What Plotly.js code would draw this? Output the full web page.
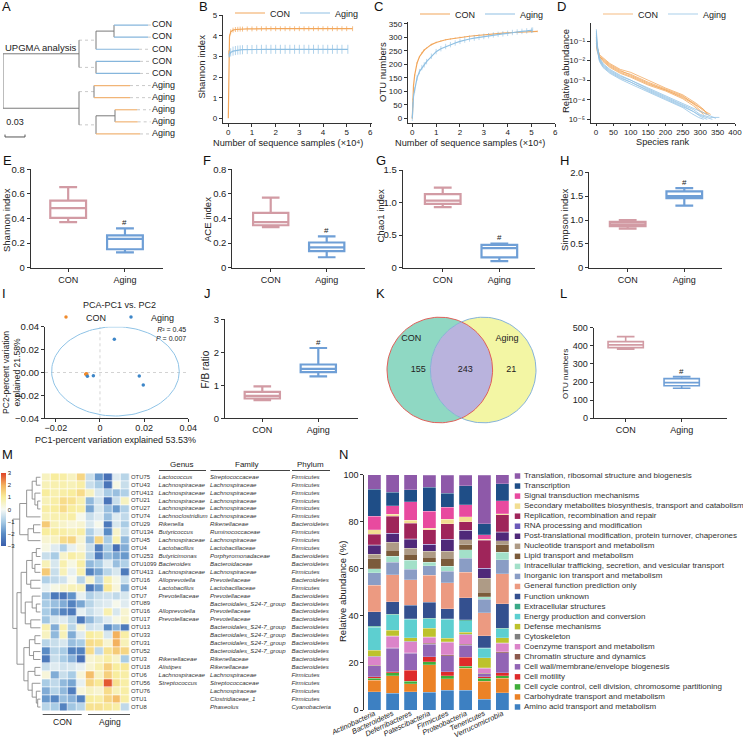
<!DOCTYPE html>
<html><head><meta charset="utf-8">
<script src="https://cdn.plot.ly/plotly-3.0.1.min.js"></script>
<style>body{margin:0;background:#fff}#chart{width:743px;height:741px}</style>
</head><body><div id="chart"></div>
<script>
// ================= DATA =================
// A: UPGMA tree. internal node: [depth, childA, childB]; leaf: ['L', leafIndex, tipDepth]
const treeLeaves=['CON','CON','CON','CON','CON','Aging','Aging','Aging','Aging','Aging'];
const upgmaTree=[0,
  [0.114,
    [0.1395,[0.1665,['L',0,0.2175],['L',1,0.2175]],['L',2,0.204]],
    [0.1395,['L',3,0.2055],['L',4,0.2055]]],
  [0.114,
    [0.1365,['L',5,0.1905],['L',6,0.1905]],
    [0.1395,[0.168,['L',7,0.201],['L',8,0.202]],['L',9,0.2055]]]];
const scaleBarLen=0.03;

// B: Shannon rarefaction
const bConX=[0,0.02,0.05,0.1,0.2,0.3,0.4,0.5,0.6,0.8,1.0,1.2,1.4,1.6,1.8,2.0,2.2,2.4,2.6,2.8,3.0,3.2,3.4,3.6,3.8,4.0,4.2,4.4,4.6,4.8,5.0,5.25];
const bConY=[0,3.2,3.95,4.2,4.28,4.31,4.32,4.33,4.33,4.34,4.34,4.35,4.35,4.35,4.35,4.35,4.35,4.35,4.35,4.35,4.35,4.35,4.35,4.35,4.35,4.35,4.35,4.35,4.35,4.35,4.35,4.35];
const bConErr=[0,0.1,0.12,0.12,0.12,0.12,0.12,0.12,0.12,0.12,0.12,0.12,0.12,0.12,0.12,0.12,0.12,0.12,0.12,0.12,0.12,0.12,0.12,0.12,0.12,0.12,0.12,0.12,0.12,0.12,0.12,0.12];
const bAgeX=[0.03,0.05,0.1,0.2,0.3,0.4,0.5,0.6,0.8,1.0,1.2,1.4,1.6,1.8,2.0,2.2,2.4,2.6,2.8,3.0,3.2,3.4,3.6,3.8,4.0,4.2,4.4,4.6,4.8,5.05];
const bAgeY=[3.05,3.12,3.2,3.26,3.29,3.31,3.32,3.33,3.34,3.34,3.35,3.35,3.35,3.35,3.35,3.35,3.35,3.35,3.35,3.35,3.35,3.35,3.35,3.35,3.35,3.35,3.35,3.35,3.35,3.35];
const bAgeErr=[0.1,0.15,0.2,0.22,0.22,0.22,0.22,0.22,0.22,0.22,0.22,0.22,0.22,0.22,0.22,0.22,0.22,0.22,0.22,0.22,0.22,0.22,0.22,0.22,0.22,0.22,0.22,0.22,0.22,0.22];

// C: OTU rarefaction
const cConX=[0,0.02,0.05,0.1,0.2,0.3,0.4,0.5,0.6,0.8,1.0,1.2,1.4,1.6,1.8,2.0,2.2,2.4,2.6,2.8,3.0,3.2,3.4,3.6,3.8,4.0,4.2,4.4,4.6,4.8,5.0,5.25];
const cConY=[0,70,120,160,205,228,243,253,260,273,281,287,291,294,297,300,302,304,306,308,310,311,313,314,316,317,318,319,320,321,322,322];
const cAgeX=[0,0.02,0.05,0.1,0.2,0.3,0.4,0.5,0.6,0.8,1.0,1.2,1.4,1.6,1.8,2.0,2.2,2.4,2.6,2.8,3.0,3.2,3.4,3.6,3.8,4.0,4.2,4.4,4.6,4.8,5.0,5.05];
const cAgeY=[0,50,80,105,150,173,188,198,210,230,247,258,266,273,279,285,290,294,297,300,303,306,309,311,313,315,318,320,322,324,326,327];
const cConErr=3, cAgeErr=10;

// D: rank abundance (log10 relative abundance)
const dConRank=[[1,3,10,20,40,70,100,150,200,250,290,310,320],[1,3,10,20,40,70,100,150,200,250,280,300,318],[1,3,10,20,40,70,100,150,200,250,285,305,330],[1,3,10,20,40,70,100,150,200,250,280,298,310],[1,3,10,20,40,70,100,150,200,250,285,310,325]];
const dConLog=[[-0.9,-1.3,-1.7,-1.85,-2.15,-2.45,-2.6,-3.0,-3.4,-3.75,-4.2,-4.5,-4.75],[-1.0,-1.4,-1.8,-1.95,-2.25,-2.55,-2.7,-3.1,-3.45,-3.8,-4.2,-4.55,-4.75],[-0.8,-1.3,-1.75,-2.0,-2.3,-2.6,-2.8,-3.2,-3.5,-3.85,-4.2,-4.5,-4.75],[-1.1,-1.5,-1.85,-2.05,-2.35,-2.65,-2.85,-3.25,-3.55,-3.95,-4.3,-4.6,-4.75],[-0.95,-1.35,-1.8,-1.9,-2.2,-2.5,-2.75,-3.15,-3.5,-3.9,-4.25,-4.5,-4.8]];
const dAgeRank=[[1,3,10,20,40,70,100,150,200,250,280,300,330,355],[1,3,10,20,40,70,100,150,200,250,280,300,335],[1,3,10,20,40,70,100,150,200,250,280,300,320],[1,3,10,20,40,70,100,150,200,250,275,295,310],[1,3,10,20,40,70,100,150,200,250,285,310,345]];
const dAgeLog=[[-0.5,-1.2,-1.9,-2.2,-2.5,-2.8,-3.0,-3.45,-3.85,-4.25,-4.5,-4.75,-4.9,-4.9],[-0.7,-1.3,-2.0,-2.3,-2.6,-2.9,-3.1,-3.55,-3.95,-4.35,-4.6,-4.8,-5.0],[-0.6,-1.25,-1.95,-2.25,-2.55,-2.85,-3.1,-3.5,-3.9,-4.3,-4.6,-4.85,-5.0],[-0.8,-1.4,-2.05,-2.35,-2.65,-2.95,-3.2,-3.6,-4.0,-4.4,-4.7,-4.9,-5.0],[-0.4,-1.1,-1.85,-2.15,-2.45,-2.75,-3.0,-3.4,-3.8,-4.2,-4.5,-4.7,-4.95]];
const dTickText=['10⁻⁵','10⁻⁴','10⁻³','10⁻²','10⁻¹'];

// Box plots: [lowerWhisker, q1, median, q3, upperWhisker]
const groups=['CON','Aging'];
const shannonCON=[0.37,0.405,0.485,0.545,0.655], shannonAging=[0.125,0.15,0.235,0.262,0.32];
const aceCON=[0.33,0.345,0.37,0.445,0.57], aceAging=[0.085,0.135,0.165,0.205,0.255];
const chao1CON=[0.93,0.98,1.03,1.13,1.23], chao1Aging=[0.1,0.16,0.3,0.35,0.37];
const simpsonCON=[0.82,0.87,0.91,0.96,1.0], simpsonAging=[1.3,1.46,1.5,1.6,1.67];
const fbCON=[0.55,0.6,0.68,0.8,0.97], fbAging=[1.27,1.4,1.5,1.63,2.13];
const otuCON=[381,390,405,423,451], otuAging=[166,180,197,219,230];

// I: PCA
const pcaConX=[-0.0063,-0.0061,-0.0064,-0.0062,-0.0060], pcaConY=[-0.0015,-0.0017,-0.0014,-0.0016,-0.0013];
const pcaAgeX=[-0.0057,-0.003,0.0065,0.0178,0.0196], pcaAgeY=[-0.0032,-0.0029,0.029,-0.003,-0.011];
const pcaEllipse=[0.007,0.001,0.0289,0.039]; // cx, cy, rx, ry

// K: Venn
const vennSets=['CON','Aging'];
const vennCounts=[155,243,21]; // CON only, shared, Aging only

// M: heatmap
const otuLabels=['OTU75','OTU43','OTU413','OTU21','OTU27','OTU74','OTU29','OTU134','OTU45','OTU4','OTU253','OTU1099','OTU413','OTU16','OTU4','OTU7','OTU89','OTU16','OTU17','OTU13','OTU33','OTU31','OTU52','OTU3','OTU18','OTU6','OTU56','OTU76','OTU1','OTU8'];
const genusNames=['Lactococcus','Lachnospiraceae','Lachnospiraceae','Lachnospiraceae','Lachnospiraceae','Lachnoclostridium','Rikenella','Butyricoccus','Lachnospiraceae','Lactobacillus','Butyricimonas','Bacteroides','Lachnospiraceae','Alloprevotella','Lactobacillus','Prevotellaceae','','Alloprevotella','Prevotellaceae','','','','','Rikenellaceae','Alistipes','Lachnospiraceae','Streptococcus','','',''];
const familyNames=['Streptococcaceae','Lachnospiraceae','Lachnospiraceae','Lachnospiraceae','Lachnospiraceae','Lachnospiraceae','Rikenellaceae','Ruminococcaceae','Lachnospiraceae','Lactobacillaceae','Porphyromonadaceae','Bacteroidaceae','Lachnospiraceae','Prevotellaceae','Lactobacillaceae','Prevotellaceae','Bacteroidales_S24-7_group','Prevotellaceae','Prevotellaceae','Bacteroidales_S24-7_group','Bacteroidales_S24-7_group','Bacteroidales_S24-7_group','Bacteroidales_S24-7_group','Rikenellaceae','Rikenellaceae','Lachnospiraceae','Streptococcaceae','Lachnospiraceae','Clostridiaceae_1','Phaseolus'];
const phylumNames=['Firmicutes','Firmicutes','Firmicutes','Firmicutes','Firmicutes','Firmicutes','Bacteroidetes','Firmicutes','Firmicutes','Firmicutes','Bacteroidetes','Bacteroidetes','Firmicutes','Bacteroidetes','Firmicutes','Bacteroidetes','Bacteroidetes','Bacteroidetes','Bacteroidetes','Bacteroidetes','Bacteroidetes','Bacteroidetes','Bacteroidetes','Bacteroidetes','Bacteroidetes','Firmicutes','Firmicutes','Firmicutes','Firmicutes','Cyanobacteria'];
const heatZ=[
[0.6,1,0.9,0.6,1.4,-0.6,-1.8,-2.6,-0.3,-0.8],
[0.7,0.8,0.8,0.7,0.9,-0.6,-1,-2.5,0.2,-0.6],
[1,0.8,0.9,1,1.3,0.6,-0.4,-1,-1.2,-0.9],
[0.7,0.9,1.3,1.2,0.8,-1.3,-0.5,-2.5,-0.6,0.6],
[0.9,1,1.3,1,0.9,-1.6,-0.4,-1.2,-1.8,-0.9],
[0.7,0.8,0.8,0.9,0.1,-0.6,-0.3,-1.2,-0.3,-0.7],
[1.6,0.7,0.5,0.3,0.4,-0.4,0.1,-2.4,-0.4,-1],
[1,1,0.9,0.7,0.9,-0.9,-0.3,-2,0.5,-0.6],
[0.4,0.6,1.3,1.4,0.4,-1.2,1.4,-1,0.8,-1.3],
[0.2,-0.3,-0.9,-0.2,0.3,-0.6,-2.3,-1,-2.6,-1.5],
[-0.6,-1,0.5,0.9,0.7,-0.8,-2.3,-1.3,-1.6,-1.8],
[0.7,-0.4,0.8,0.2,0.9,-1.3,-1,-0.3,-1.2,-0.9],
[1.6,-0.6,0.7,-0.2,0.8,-2.2,-1.6,-0.8,-0.4,-2.4],
[-0.9,-0.7,-0.5,0.1,-0.8,0.5,-0.9,0.8,0.2,-0.6],
[-0.2,0.2,0.5,0.7,0.7,-2.4,-1.7,1.1,0.3,-1.5],
[-1.2,-2.4,-2.5,-1.9,-0.2,-0.9,-0.6,-0.5,-0.7,-0.4],
[-1,-1.2,-1.5,-2.2,-1.6,-0.8,-0.4,-0.3,0.1,-0.3],
[-1,-1.6,-2.2,-2.4,-0.2,-0.6,-0.3,0.8,-0.4,0.4],
[-1.1,-0.4,-0.3,-0.8,-2.4,-1.3,-0.7,-0.3,0.2,0.5],
[0.8,-1.5,0.8,-0.8,0.4,-0.5,-0.4,-2,-1.4,-2.4],
[0.6,-1.3,0.7,-1.5,-0.3,1,0.8,-0.4,2,0.9],
[-0.8,-0.6,-0.4,-1.2,-1,1.3,1.2,0.4,2,0.7],
[-2,-0.8,-1,-2.2,-2.2,1.3,-0.7,1.2,1.6,1.4],
[-2.4,-0.6,-1,-1.4,-2.6,0.4,0.6,0.9,0.5,-1],
[-0.6,-0.3,-0.5,-0.4,-0.2,0.4,0.8,1.5,1,1.1],
[0.3,-1.5,-0.6,-1,0.3,1.8,0.6,1.5,1,0.9],
[-1,-0.7,-1.3,-1.6,-0.2,1.4,1.1,2.8,1.2,0.9],
[-1.5,-0.8,-1.3,-2.3,0.3,0.6,0.4,1.3,0.7,0.9],
[-1.8,-2.1,-1.2,-1.4,-2.2,1,0.9,1.4,1.8,0.9],
[-0.8,-1,-2.2,-1.1,-0.8,1.2,1.2,1.1,0.9,-0.7]];
// row clustering: [height, childA, childB]; leaves are row indices
const rowTree=[1.0,
  [0.75,[0.5,[0.3,[0.15,0,1],[0.2,2,[0.1,3,4]]],5],[0.45,[0.25,6,7],8]],
  [0.85,
    [0.7,[0.5,[0.3,[0.15,9,10],[0.2,11,12]],[0.35,13,14]],[0.55,[0.3,15,[0.15,16,17]],[0.35,18,19]]],
    [0.6,[0.4,[0.2,20,21],[0.25,22,23]],[0.45,[0.2,24,25],[0.3,26,[0.15,27,[0.1,28,29]]]]]]];

// N: COG functional categories (stack bottom -> top)
const phyla=['Actinobacteria','Bacteroidetes','Deferribacteres','Patescibacteria','Firmicutes','Proteobacteria','Tenericutes','Verrucomicrobia'];
const cogCats=['Amino acid transport and metabolism','Carbohydrate transport and metabolism','Cell cycle control, cell division, chromosome partitioning','Cell motility','Cell wall/membrane/envelope biogenesis','Chromatin structure and dynamics','Coenzyme transport and metabolism','Cytoskeleton','Defense mechanisms','Energy production and conversion','Extracellular structures','Function unknown','General function prediction only','Inorganic ion transport and metabolism','Intracellular trafficking, secretion, and vesicular transport','Lipid transport and metabolism','Nucleotide transport and metabolism','Post-translational modification, protein turnover, chaperones','RNA processing and modification','Replication, recombination and repair','Secondary metabolites biosynthesis, transport and catabolism','Signal transduction mechanisms','Transcription','Translation, ribosomal structure and biogenesis'];
const cogColors=['#3d80c2','#eb8226','#3fae3a','#de2b2a','#9265b5','#8c5a4e','#db84c9','#808080','#bdc22c','#5dcfd0','#3aa987','#34508f','#ec9a81','#8a9dc5','#a3e0c9','#7b5b3b','#ae9b86','#4f2979','#6b5ab9','#9f255a','#f2de92','#e84a9f','#1f4e87','#8e59a9'];
const actinobacteria=[7.8,4.8,0.9,0.7,4.6,0.3,3.6,0.2,2.5,9.8,0.3,6.3,11.2,5.3,1.7,4.2,1.9,3.9,0.2,4.4,2.1,5.7,11.4,6.2];
const bacteroidetes=[7.1,7.5,1.3,0.3,10.0,0.3,4.8,0.2,2.4,6.5,0.3,5.4,11.4,5.3,2.5,2.6,3.3,3.7,0.2,7.2,0.9,3.7,5.7,7.4];
const deferribacteres=[7.8,3.4,1.1,4.7,7.1,0.3,4.6,0.2,1.5,7.8,0.3,5.8,10.8,4.5,3.8,2.6,2.4,3.8,0.2,6.6,1.4,7.8,5.0,6.5];
const patescibacteria=[7.5,11.8,1.2,2.2,5.3,0.3,2.7,0.2,3.5,4.1,0.3,6.7,11.4,4.2,1.4,2.2,2.5,2.7,0.2,6.2,0.7,7.1,10.3,5.1];
const firmicutes=[8.5,4.7,1.4,1.7,6.8,0.3,5.4,0.2,1.5,8.0,0.3,4.2,11.0,5.0,2.1,3.4,2.9,4.9,0.2,6.6,1.9,5.2,6.0,7.6];
const proteobacteria=[8.5,9.2,1.0,3.7,5.2,0.3,4.0,0.2,0.9,5.0,0.3,9.5,10.8,5.9,3.7,2.0,2.1,4.0,0.2,3.6,2.1,5.0,8.2,4.4];
const tenericutes=[4.5,7.8,1.1,0.7,1.4,0.2,2.1,0.2,4.2,4.0,0.3,5.0,9.8,5.7,1.1,2.0,5.8,4.1,0.2,12.0,0.4,1.8,4.7,20.6];
const verrucomicrobia=[7.4,6.1,1.0,1.4,8.5,0.3,3.6,0.2,2.2,3.8,0.3,10.3,12.8,5.9,3.3,3.2,1.7,3.6,0.2,7.1,0.5,5.6,7.1,3.8];
const phylumProfiles=[actinobacteria,bacteroidetes,deferribacteres,patescibacteria,firmicutes,proteobacteria,tenericutes,verrucomicrobia];

// ================= HELPERS =================
const W=743,H=741;
const dx=(a,b)=>[a/W,b/W];
const dy=(t,b)=>[1-b/H,1-t/H];
const FONT='Liberation Sans, Arial, Helvetica, DejaVu Sans, sans-serif';
const TXT='#222', AX='#333';
const ORANGE='#f2a65a', BLUE='#8fc0e3';
const BOXCON='#d29ba4', BOXAGE='#6f9fd6';
function ax(domain,anchor,extra){return Object.assign({domain,anchor,showgrid:false,zeroline:false,showline:true,linecolor:AX,linewidth:1,ticks:'outside',ticklen:3,tickwidth:1,tickcolor:AX,tickfont:{size:8.5,color:TXT},fixedrange:true},extra||{});}
function hid(domain,anchor,extra){return Object.assign({domain,anchor,visible:false,showgrid:false,zeroline:false,fixedrange:true},extra||{});}
const traces=[];
const annotations=[];
const shapes=[];
function pAnn(text,xpx,ypx,opt){annotations.push(Object.assign({text,x:xpx/W,y:1-ypx/H,xref:'paper',yref:'paper',showarrow:false,xanchor:'left',yanchor:'middle',font:{size:9,color:TXT}},opt||{}));}
function yTitle(text,xpx,ypx,size){pAnn(text,xpx,ypx,{xanchor:'center',yanchor:'middle',textangle:-90,font:{size:size||9.5,color:TXT}});}
function xTitle(text,xpx,ypx,size){pAnn(text,xpx,ypx,{xanchor:'center',yanchor:'middle',font:{size:size||9.5,color:TXT}});}

// panel letters
[['A',0,7],['B',197,7],['C',372,7],['D',555,7],['E',1,160],['F',201,160],['G',374,160],['H',558,160],['I',0,293],['J',202,293],['K',374,293],['L',558,293],['M',0,454],['N',337,454]]
 .forEach(([t,x,y])=>pAnn(t,x,y,{font:{size:13,color:'#111'}}));

// axis titles
yTitle('Shannon index',201.5,67);
xTitle('Number of sequence samples (×10⁴)',288,142.5,9.2);
yTitle('OTU numbers',382,72);
xTitle('Number of sequence samples (×10⁴)',470,142.5,9.2);
yTitle('Relative abundance',565,71);
xTitle('Species rank',663,142,9.2);
yTitle('Shannon index',6,220);
yTitle('ACE index',207,220);
yTitle('Chao1 index',380.5,216);
yTitle('Simpson index',564,220);
yTitle('PC2-percent variation<br>explained 21.58%',11,373,8.6);
xTitle('PC1-percent variation explained 53.53%',115,440,9);
yTitle('F/B ratio',205.5,369,10);
yTitle('OTU numbers',565,374,8);
yTitle('Relative abundance (%)',342,592,9.5);

// ================= A: dendrogram =================
const labelX=0.2235;
const segGray={x:[],y:[]}, segDot={x:[],y:[]}, segCon={x:[],y:[]}, segAge={x:[],y:[]};
function seg(s,x0,y0,x1,y1){s.x.push(x0,x1,null);s.y.push(y0,y1,null);}
function walkA(n){
  if(n[0]==='L') return {x:n[2],y:n[1]};
  const d=n[0], a=walkA(n[1]), b=walkA(n[2]);
  seg(segGray,d,a.y,d,b.y);
  [[n[1],a],[n[2],b]].forEach(([ch,p])=>{
    if(ch[0]==='L'){seg(treeLeaves[ch[1]]==='CON'?segCon:segAge,d,p.y,p.x,p.y);seg(segDot,p.x,p.y,labelX-0.002,p.y);}
    else seg(d===0?segGray:(d<0.12?segDot:segGray),d,p.y,p.x,p.y);
  });
  return {x:d,y:(a.y+b.y)/2};
}
walkA(upgmaTree);
const lineTr=(s,color,w,dash)=>({type:'scatter',mode:'lines',x:s.x,y:s.y,xaxis:'x',yaxis:'y',line:{color,width:w,dash:dash||'solid'},showlegend:false,hoverinfo:'skip',connectgaps:false});
traces.push(lineTr(segDot,'#bbb',0.8,'dot'),lineTr(segGray,'#7a7a7a',1),lineTr(segCon,'#86b6dc',1.2),lineTr(segAge,'#f1b577',1.2));
traces.push({type:'scatter',mode:'text',x:treeLeaves.map(()=>labelX),y:treeLeaves.map((_,i)=>i),text:treeLeaves,textposition:'middle right',textfont:{size:9,color:TXT},xaxis:'x',yaxis:'y',showlegend:false,hoverinfo:'skip',cliponaxis:false});
traces.push({type:'scatter',mode:'lines',x:[0.003,0.003,0.003+scaleBarLen,0.003+scaleBarLen],y:[9.05,9.25,9.25,9.05],xaxis:'x',yaxis:'y',line:{color:'#555',width:1},showlegend:false,hoverinfo:'skip',cliponaxis:false});
traces.push({type:'scatter',mode:'text',x:[0.003+scaleBarLen/2],y:[8.05],text:[String(scaleBarLen)],textfont:{size:9,color:TXT},xaxis:'x',yaxis:'y',showlegend:false,hoverinfo:'skip',cliponaxis:false});
pAnn('UPGMA analysis',3,47,{font:{size:9.5,color:TXT}});

// ================= B =================
traces.push({type:'scatter',mode:'lines',name:'CON',x:bConX,y:bConY,xaxis:'x2',yaxis:'y2',line:{color:ORANGE,width:1.2},error_y:{type:'data',array:bConErr,color:ORANGE,thickness:0.7,width:0},legend:'legend',hoverinfo:'skip'});
traces.push({type:'scatter',mode:'lines',name:'Aging',x:bAgeX,y:bAgeY,xaxis:'x2',yaxis:'y2',line:{color:BLUE,width:1.2},error_y:{type:'data',array:bAgeErr,color:BLUE,thickness:0.7,width:0},legend:'legend',hoverinfo:'skip'});
// ================= C =================
traces.push({type:'scatter',mode:'lines',name:'CON',x:cConX,y:cConY,xaxis:'x3',yaxis:'y3',line:{color:ORANGE,width:1.2},error_y:{type:'constant',value:cConErr,color:ORANGE,thickness:0.6,width:0},legend:'legend2',hoverinfo:'skip'});
traces.push({type:'scatter',mode:'lines',name:'Aging',x:cAgeX,y:cAgeY,xaxis:'x3',yaxis:'y3',line:{color:BLUE,width:1.2},error_y:{type:'constant',value:cAgeErr,color:BLUE,thickness:0.6,width:0},legend:'legend2',hoverinfo:'skip'});
// ================= D =================
dConRank.forEach((r,i)=>traces.push({type:'scatter',mode:'lines',name:'CON',legendgroup:'dcon',showlegend:i===0,x:r,y:dConLog[i].map(v=>Math.pow(10,v)),xaxis:'x4',yaxis:'y4',line:{color:ORANGE,width:0.9},opacity:0.85,legend:'legend3',hoverinfo:'skip'}));
dAgeRank.forEach((r,i)=>traces.push({type:'scatter',mode:'lines',name:'Aging',legendgroup:'dage',showlegend:i===0,x:r,y:dAgeLog[i].map(v=>Math.pow(10,v)),xaxis:'x4',yaxis:'y4',line:{color:BLUE,width:0.9},opacity:0.85,legend:'legend3',hoverinfo:'skip'}));

// ================= boxes =================
function box(name,s,color,n,lw){return {type:'box',name,x:[name],lowerfence:[s[0]],q1:[s[1]],median:[s[2]],q3:[s[3]],upperfence:[s[4]],xaxis:'x'+n,yaxis:'y'+n,line:{color,width:lw||2},fillcolor:'#ffffff',width:0.63,whiskerwidth:0.5,boxpoints:false,showlegend:false,hoverinfo:'skip'};}
function hash(n,s,top){annotations.push({text:'#',x:'Aging',y:s[4]+0.06*top,xref:'x'+n,yref:'y'+n,showarrow:false,font:{size:8,color:TXT},yanchor:'middle'});}
[[5,shannonCON,shannonAging,0.8],[6,aceCON,aceAging,0.8],[7,chao1CON,chao1Aging,1.5],[8,simpsonCON,simpsonAging,2],[10,fbCON,fbAging,3],[12,otuCON,otuAging,500]].forEach(([n,a,b,top])=>{
  const lw=n===12?1.6:2.2;
  traces.push(box(groups[0],a,BOXCON,n,lw),box(groups[1],b,BOXAGE,n,lw));hash(n,b,top);
});

// ================= I: PCA =================
const elT=[];for(let k=0;k<=120;k++)elT.push(k/120*2*Math.PI);
traces.push({type:'scatter',mode:'lines',x:elT.map(t=>pcaEllipse[0]+pcaEllipse[2]*Math.cos(t)),y:elT.map(t=>pcaEllipse[1]+pcaEllipse[3]*Math.sin(t)),xaxis:'x9',yaxis:'y9',line:{color:'#8fc3e6',width:1},showlegend:false,hoverinfo:'skip',cliponaxis:false});
traces.push({type:'scatter',mode:'markers',name:'CON',x:pcaConX,y:pcaConY,xaxis:'x9',yaxis:'y9',marker:{color:'#f08a2c',size:3.5},legend:'legend4',hoverinfo:'skip'});
traces.push({type:'scatter',mode:'markers',name:'Aging',x:pcaAgeX,y:pcaAgeY,xaxis:'x9',yaxis:'y9',marker:{color:'#3d86c8',size:3.5},legend:'legend4',hoverinfo:'skip'});
shapes.push({type:'line',xref:'x9',yref:'y9',x0:0,x1:0,y0:-0.04,y1:0.04,line:{color:'#c8c8c8',width:0.8,dash:'dot'},layer:'below'});
shapes.push({type:'line',xref:'x9',yref:'y9',x0:-0.0249,x1:0.04,y0:0,y1:0,line:{color:'#c8c8c8',width:0.8,dash:'dot'},layer:'below'});
pAnn('PCA-PC1 vs. PC2',120,305,{xanchor:'center',font:{size:9,color:TXT}});
pAnn('<i>R</i>² = 0.45<br><i>P</i> = 0.007',188,333.5,{xanchor:'right',align:'right',font:{size:7,color:TXT}});

// ================= K: Venn =================
const vr=1, vd=0.411;
const circ=(cx)=>{const xs=[],ys=[];for(let k=0;k<=120;k++){const t=k/120*2*Math.PI;xs.push(cx+vr*Math.cos(t));ys.push(vr*Math.sin(t));}return [xs,ys];};
const [lx,ly]=circ(-vd),[rx,ry]=circ(vd);
traces.push({type:'scatter',mode:'lines',x:lx,y:ly,fill:'toself',fillcolor:'#8fd8c3',line:{width:0},xaxis:'x11',yaxis:'y11',showlegend:false,hoverinfo:'skip'});
traces.push({type:'scatter',mode:'lines',x:rx,y:ry,fill:'toself',fillcolor:'#f3f6a4',line:{width:0},xaxis:'x11',yaxis:'y11',showlegend:false,hoverinfo:'skip'});
const alpha=Math.acos(vd/vr);const lensX=[],lensY=[];
for(let k=0;k<=60;k++){const t=-alpha+2*alpha*k/60;lensX.push(-vd+vr*Math.cos(t));lensY.push(vr*Math.sin(t));}
for(let k=0;k<=60;k++){const t=Math.PI-alpha+2*alpha*k/60;lensX.push(vd+vr*Math.cos(t));lensY.push(vr*Math.sin(t));}
traces.push({type:'scatter',mode:'lines',x:lensX,y:lensY,fill:'toself',fillcolor:'#b9b3dd',line:{width:0},xaxis:'x11',yaxis:'y11',showlegend:false,hoverinfo:'skip'});
traces.push({type:'scatter',mode:'lines',x:lx,y:ly,line:{color:'#e0605a',width:1},xaxis:'x11',yaxis:'y11',showlegend:false,hoverinfo:'skip'});
traces.push({type:'scatter',mode:'lines',x:rx,y:ry,line:{color:'#86b3d9',width:1},xaxis:'x11',yaxis:'y11',showlegend:false,hoverinfo:'skip'});
traces.push({type:'scatter',mode:'text',x:[-vd-0.41*vr,0.07,vd+0.53*vr],y:[0,0,0],text:vennCounts.map(String),textfont:{size:9,color:TXT},xaxis:'x11',yaxis:'y11',showlegend:false,hoverinfo:'skip'});
traces.push({type:'scatter',mode:'text',x:[-vd-0.54*vr,vd+0.45*vr],y:[0.59,0.59],text:vennSets,textfont:{size:9,color:TXT},xaxis:'x11',yaxis:'y11',showlegend:false,hoverinfo:'skip'});

// ================= M: heatmap =================
traces.push({type:'heatmap',z:heatZ,x:[0,1,2,3,4,5,6,7,8,9],y:otuLabels.map((_,i)=>i),xaxis:'x13',yaxis:'y13',zmin:-3,zmax:3,xgap:0.7,ygap:0.7,hoverinfo:'skip',
  colorscale:[[0,'#3a5eac'],[0.17,'#5b8dc6'],[0.33,'#a7cbe5'],[0.5,'#f6f9f4'],[0.67,'#f8ed9c'],[0.83,'#f3b35f'],[1,'#df4327']],
  colorbar:{x:0.5/W,xanchor:'left',y:1-473/H,yanchor:'top',len:73,lenmode:'pixels',thickness:4.5,thicknessmode:'pixels',outlinewidth:0,tickvals:[-3,-2,-1,0,1,2,3],ticktext:['−3','−2','−1','0','1','2','3'],tickfont:{size:6,color:TXT},ticks:'',xpad:0,ypad:0,ticklabelposition:'outside'}});
const segM={x:[],y:[]};
function walkM(n){if(typeof n==='number')return {x:0,y:n};const a=walkM(n[1]),b=walkM(n[2]);seg(segM,n[0],a.y,n[0],b.y);seg(segM,a.x,a.y,n[0],a.y);seg(segM,b.x,b.y,n[0],b.y);return {x:n[0],y:(a.y+b.y)/2};}
walkM(rowTree);
traces.push({type:'scatter',mode:'lines',x:segM.x,y:segM.y,xaxis:'x14',yaxis:'y13',line:{color:'#8a8a8a',width:0.9},showlegend:false,hoverinfo:'skip'});
function tcol(xv,arr,it,size){
  const rows=arr.map((s,i)=>[s,i]).filter(r=>r[0]);
  return {type:'scatter',mode:'text',x:rows.map(()=>xv),y:rows.map(r=>r[1]),text:rows.map(r=>it?'<i>'+r[0]+'</i>':r[0]),textposition:'middle right',textfont:{size:size,color:'#333'},xaxis:'x15',yaxis:'y13',showlegend:false,hoverinfo:'skip',cliponaxis:false};
}
traces.push(tcol(0,otuLabels,false,5.9),tcol(27.5,genusNames,true,6.1),tcol(79,familyNames,true,6.1),tcol(160.5,phylumNames,true,6.1));
pAnn('Genus',182,464,{xanchor:'center',font:{size:8,color:TXT}});
pAnn('Family',247,464,{xanchor:'center',font:{size:8,color:TXT}});
pAnn('Phylum',310,464,{xanchor:'center',font:{size:8,color:TXT}});
[[159,206],[210.5,290],[292,330]].forEach(([a,b])=>shapes.push({type:'line',xref:'paper',yref:'paper',x0:a/W,x1:b/W,y0:1-470.5/H,y1:1-470.5/H,line:{color:'#444',width:1}}));
[[42.7,81.7],[88,130]].forEach(([a,b])=>shapes.push({type:'line',xref:'paper',yref:'paper',x0:a/W,x1:b/W,y0:1-714.5/H,y1:1-714.5/H,line:{color:'#555',width:1}}));
pAnn('CON',62.5,722,{xanchor:'center',font:{size:8.5,color:TXT}});
pAnn('Aging',110,722,{xanchor:'center',font:{size:8.5,color:TXT}});

// ================= N: stacked bars =================
cogCats.forEach((c,k)=>traces.push({type:'bar',name:c,x:phyla,y:phylumProfiles.map(p=>p[k]),xaxis:'x16',yaxis:'y16',marker:{color:cogColors[k],line:{color:'rgba(255,255,255,0.55)',width:0.4}},width:0.71,showlegend:false,hoverinfo:'skip'}));
traces.push({type:'scatter',mode:'markers',x:cogCats.map(()=>0),y:cogCats.map((_,k)=>k),marker:{symbol:'square',size:5.5,color:cogColors},xaxis:'x17',yaxis:'y17',showlegend:false,hoverinfo:'skip'});
traces.push({type:'scatter',mode:'text',x:cogCats.map(()=>6.5),y:cogCats.map((_,k)=>k),text:cogCats,textposition:'middle right',textfont:{size:8,color:'#333'},xaxis:'x17',yaxis:'y17',showlegend:false,hoverinfo:'skip',cliponaxis:false});

// ================= LAYOUT =================
const legendBase={orientation:'h',xanchor:'center',yanchor:'middle',traceorder:'normal',font:{size:9,color:TXT},bgcolor:'rgba(0,0,0,0)',borderwidth:0,itemwidth:30,tracegroupgap:0};
const catAx=(dom,anchor,range)=>ax(dom,anchor,{type:'category',range,tickfont:{size:9,color:TXT}});
const topX={ticklen:2.5,ticklabelstandoff:-1,tickfont:{size:8,color:TXT}};
const topY={tickfont:{size:8,color:TXT}};
const layout={
  width:W,height:H,margin:{l:0,r:0,t:0,b:0,autoexpand:false},
  paper_bgcolor:'#ffffff',plot_bgcolor:'rgba(0,0,0,0)',
  font:{family:FONT,size:9,color:TXT},hovermode:false,barmode:'stack',
  legend:Object.assign({},legendBase,{x:297/W,y:1-13/H}),
  legend2:Object.assign({},legendBase,{x:482/W,y:1-14/H}),
  legend3:Object.assign({},legendBase,{x:665/W,y:1-14/H}),
  legend4:Object.assign({},legendBase,{x:113/W,y:1-317/H}),
  xaxis:hid(dx(3,200),'y',{range:[0,0.2955]}),
  yaxis:hid(dy(19,140),'x',{range:[9.5,-0.5]}),
  xaxis2:ax(dx(222.7,372),'y2',Object.assign({range:[-0.237,6.07],tickvals:[0,1,2,3,4,5,6]},topX)),
  yaxis2:ax(dy(15.3,123.3),'x2',Object.assign({range:[-0.24,5],tickvals:[0,1,2,3,4,5]},topY)),
  xaxis3:ax(dx(407.7,555.3),'y3',Object.assign({range:[-0.193,6],tickvals:[0,1,2,3,4,5,6]},topX)),
  yaxis3:ax(dy(21.7,123.3),'x3',Object.assign({range:[-18.6,358],tickvals:[0,50,100,150,200,250,300,350]},topY)),
  xaxis4:ax(dx(590.7,735),'y4',Object.assign({range:[-15.3,400],tickvals:[0,50,100,150,200,250,300,350,400]},topX)),
  yaxis4:ax(dy(22.7,122.7),'x4',Object.assign({type:'log',range:[-5.17,-0.065],tickvals:[1e-5,1e-4,1e-3,1e-2,1e-1],ticktext:dTickText},topY)),
  xaxis5:catAx(dx(30.7,163),'y5',[-0.66,1.67]),
  yaxis5:ax(dy(169.3,267.7),'x5',{range:[0,0.8],tickvals:[0,0.2,0.4,0.6,0.8],ticktext:['0','0.2','0.4','0.6','0.8'],tickfont:{size:9.5,color:TXT}}),
  xaxis6:catAx(dx(232.3,365),'y6',[-0.686,1.684]),
  yaxis6:ax(dy(169.3,267.7),'x6',{range:[0,0.8],tickvals:[0,0.2,0.4,0.6,0.8],ticktext:['0','0.2','0.4','0.6','0.8'],tickfont:{size:9.5,color:TXT}}),
  xaxis7:catAx(dx(402.7,535),'y7',[-0.707,1.63]),
  yaxis7:ax(dy(170,267.7),'x7',{range:[0,1.5],tickvals:[0,0.5,1,1.5],ticktext:['0','0.5','1.0','1.5'],tickfont:{size:9.5,color:TXT}}),
  xaxis8:catAx(dx(589.3,722),'y8',[-0.678,1.666]),
  yaxis8:ax(dy(172.3,267.7),'x8',{range:[0,2],tickvals:[0,0.5,1,1.5,2],ticktext:['0','0.5','1.0','1.5','2.0'],tickfont:{size:9.5,color:TXT}}),
  xaxis9:ax(dx(45,188.3),'y9',{range:[-0.0249,0.04],tickvals:[-0.02,0,0.02,0.04],ticktext:['−0.02','0','0.02','0.04'],tickfont:{size:9,color:TXT},ticklen:2.5,ticklabelstandoff:-2}),
  yaxis9:ax(dy(326.7,418.3),'x9',{range:[-0.04,0.04],tickvals:[-0.04,-0.02,0,0.02,0.04],ticktext:['−0.04','−0.02','0.00','0.02','0.04'],tickfont:{size:9.5,color:TXT}}),
  xaxis10:catAx(dx(225,358),'y10',[-0.666,1.709]),
  yaxis10:ax(dy(319.3,418.3),'x10',{range:[0,3],tickvals:[0,1,2,3],tickfont:{size:9.5,color:TXT}}),
  xaxis11:hid(dx(372,551),'y11',{range:[-1.695,1.695]}),
  yaxis11:hid(dy(310,430),'x11',{range:[-1.136,1.136]}),
  xaxis12:catAx(dx(593.7,726.7),'y12',[-0.571,1.804]),
  yaxis12:ax(dy(327.7,418.3),'x12',{range:[0,500],tickvals:[0,100,200,300,400,500],tickfont:{size:9,color:TXT}}),
  xaxis13:hid(dx(41.7,130),'y13',{range:[-0.5,9.5]}),
  yaxis13:hid(dy(473.3,711),'x13',{range:[29.5,-0.5]}),
  xaxis14:hid(dx(12,41),'y13',{range:[1.03,-0.02]}),
  xaxis15:hid(dx(131,335),'y13',{range:[0,204]}),
  xaxis16:ax(dx(364.3,511),'y16',{type:'category',range:[-0.546,7.47],showline:false,ticks:'',tickangle:-25,ticklabelstandoff:-3,tickvals:phyla,ticktext:phyla.map(p=>'<i>'+p+'</i>'),tickfont:{size:7.4,color:TXT}}),
  yaxis16:ax(dy(474.7,710),'x16',{range:[0,100],tickvals:[0,20,40,60,80,100],tickfont:{size:9,color:TXT}}),
  xaxis17:hid(dx(514,743),'y17',{range:[-3.5,225]}),
  yaxis17:hid(dy(471,712),'x17',{range:[-0.5,23.5]}),
  annotations,shapes
};
Plotly.newPlot('chart',traces,layout,{staticPlot:true,displayModeBar:false});
</script></body></html>
